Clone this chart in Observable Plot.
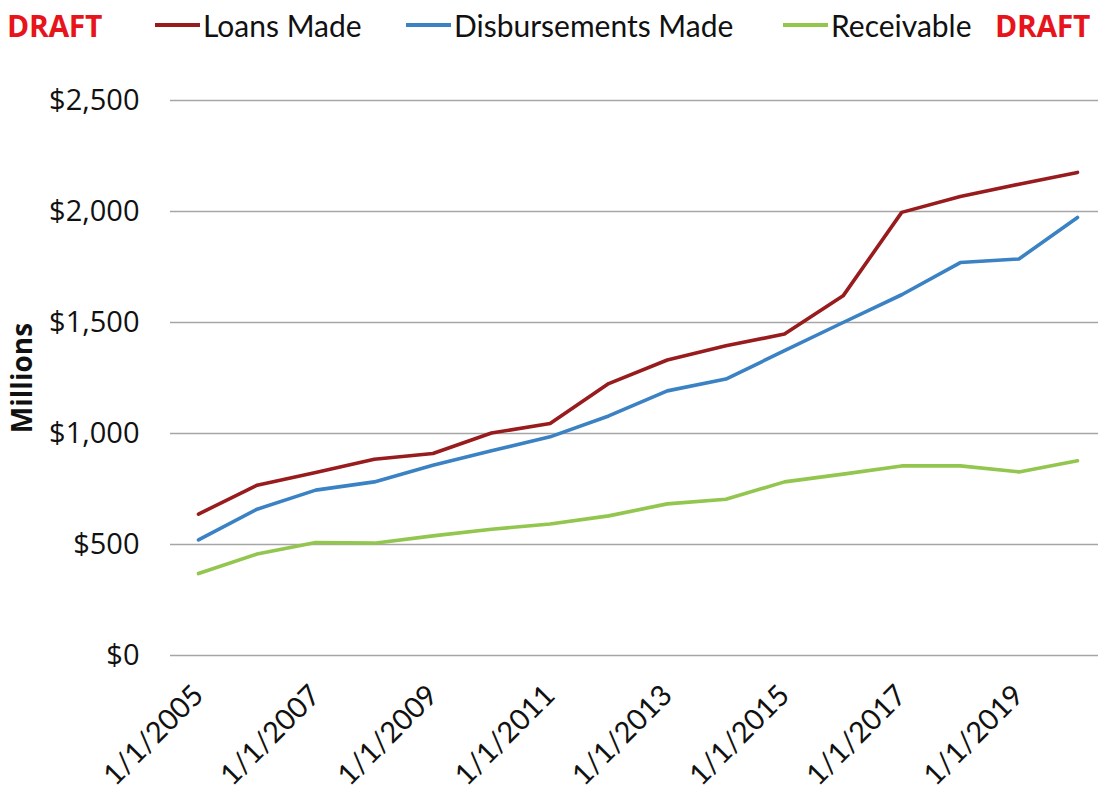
<!DOCTYPE html>
<html>
<head>
<meta charset="utf-8">
<script src="https://cdn.jsdelivr.net/npm/d3@7"></script>
<script src="https://cdn.jsdelivr.net/npm/@observablehq/plot@0.6"></script>
<style>
  html, body { margin: 0; padding: 0; background: #fff; }
  body { width: 1098px; height: 793px; overflow: hidden; font-family: Lato, "Open Sans", sans-serif; }
  #legend { position: relative; height: 55px; width: 1098px; }
  #legend .draft { position: absolute; top: 5px; color: #e8141b; font-weight: bold; font-size: 30px; font-family: "Open Sans", sans-serif; letter-spacing: -0.3px; }
  #legend .item { position: absolute; top: 7px; font-size: 30px; color: #111; display: flex; align-items: center; }
  #legend .sw { display: inline-block; width: 45px; height: 4px; margin-right: 3px; }
</style>
</head>
<body>
<div id="legend"></div>
<div id="chart"></div>
<script>
const years = [2005, 2006, 2007, 2008, 2009, 2010, 2011, 2012, 2013, 2014, 2015, 2016, 2017, 2018, 2019, 2020];
const loansMade = [637, 767, 824, 884, 910, 1002, 1045, 1225, 1331, 1395, 1448, 1620, 1996, 2068, 2123, 2176];
const disbursementsMade = [521, 659, 745, 782, 857, 922, 985, 1079, 1192, 1245, 1373, 1500, 1625, 1770, 1786, 1973];
const receivable = [369, 457, 509, 506, 539, 569, 592, 629, 683, 704, 782, 817, 854, 854, 827, 877];
const seriesNames = ["Loans Made", "Disbursements Made", "Receivable"];
const seriesColors = ["#981b1e", "#3b82c4", "#92c64e"];
const yTicks = [0, 500, 1000, 1500, 2000, 2500];
const xTicks = [2005, 2007, 2009, 2011, 2013, 2015, 2017, 2019];

const seriesValues = [loansMade, disbursementsMade, receivable];
const data = [];
seriesNames.forEach((name, i) => {
  years.forEach((yr, j) => data.push({series: name, year: yr, value: seriesValues[i][j]}));
});

// Legend
const legend = document.getElementById("legend");
function add(html, left, cls) {
  const d = document.createElement("div");
  d.className = cls; d.style.left = left + "px"; d.innerHTML = html; legend.appendChild(d);
}
add("DRAFT", 7, "draft");
add("DRAFT", 995, "draft");
const legendX = [155, 406, 783];
seriesNames.forEach((n, i) => {
  add(`<span class="sw" style="background:${seriesColors[i]}"></span>${n}`, legendX[i], "item");
});

const chart = Plot.plot({
  width: 1098,
  height: 738,
  marginLeft: 170,
  marginRight: 0,
  marginTop: 45,
  marginBottom: 138,
  style: {fontFamily: "Lato, sans-serif", background: "#fff"},
  x: {domain: [2005, 2020], range: [198, 1077], ticks: xTicks, tickFormat: d => `1/1/${d}`},
  y: {domain: [0, 2500], ticks: yTicks},
  color: {domain: seriesNames, range: seriesColors},
  marks: [
    Plot.ruleY(yTicks, {stroke: "#a6a6a6", strokeWidth: 1.3}),
    Plot.axisY({ticks: yTicks, tickSize: 0, tickPadding: 31, tickFormat: d => "$" + d3.format(",")(d), fontSize: 29, fontFamily: "Open Sans, sans-serif", fill: "#111", label: null}),
    Plot.axisY({ticks: [], tickSize: 0, label: "Millions", labelAnchor: "center", labelArrow: "none", labelOffset: 158, fontSize: 28, fontWeight: "bold", fontFamily: "Open Sans, sans-serif", fill: "#111"}),
    Plot.axisX({ticks: xTicks, tickSize: 0, tickPadding: 35, tickRotate: -45, tickFormat: d => `1/1/${d}`, fontSize: 29, fill: "#111", label: null}),
    Plot.line(data, {x: "year", y: "value", z: "series", stroke: "series", strokeWidth: 3.6, strokeLinejoin: "round", strokeLinecap: "round"})
  ]
});
document.getElementById("chart").appendChild(chart);
</script>
</body>
</html>
